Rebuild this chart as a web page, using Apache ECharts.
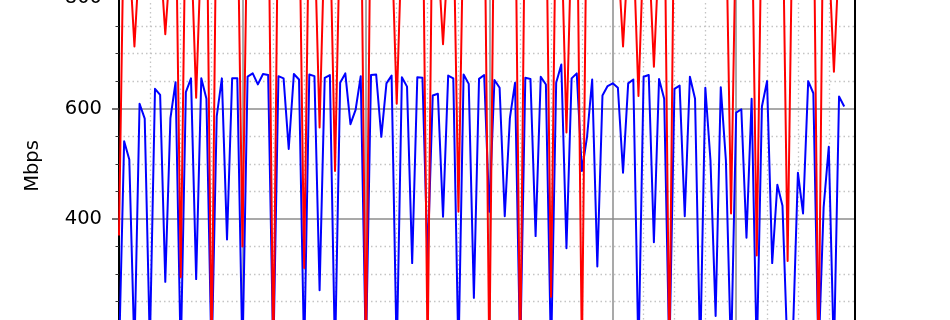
<!DOCTYPE html>
<html>
<head>
<meta charset="utf-8">
<script src="https://cdn.jsdelivr.net/npm/echarts@6/dist/echarts.min.js"></script>
<style>
html,body{margin:0;padding:0;background:#fff;width:950px;height:320px;overflow:hidden;}
#wrap{width:950px;height:320px;overflow:hidden;position:relative;}
#chart{width:950px;height:470px;position:absolute;left:0;top:-2px;}
</style>
</head>
<body>
<div id="wrap"><div id="chart"></div></div>
<script>
// Y axis (Mbps) tick values
const yTicks = [0, 200, 400, 600, 800];
const yLabel = 'Mbps';

// Blue series (sample index 0..141)
const blueValues = [
  150, 541, 508, 160, 609, 582, 170, 636, 625, 286,
  583, 648, 150, 630, 655, 291, 655, 618, 140, 586,
  655, 363, 655, 655, 150, 658, 664, 644, 663, 661,
  150, 659, 655, 527, 663, 653, 150, 662, 659, 271,
  656, 661, 150, 647, 664, 572, 598, 659, 150, 661,
  662, 549, 646, 660, 150, 657, 640, 320, 657, 656,
  326, 624, 627, 404, 660, 655, 150, 662, 645, 257,
  654, 661, 413, 652, 638, 405, 583, 647, 150, 656,
  654, 369, 658, 644, 150, 647, 680, 347, 655, 664,
  487, 549, 653, 314, 624, 641, 646, 638, 484, 646,
  653, 150, 658, 661, 358, 654, 618, 150, 636, 642,
  405, 658, 618, 150, 638, 506, 224, 639, 506, 150,
  593, 599, 366, 618, 150, 604, 650, 320, 462, 424,
  150, 180, 484, 410, 650, 628, 150, 421, 531, 150,
  622, 604
];

// Red series (sample index 0..141)
const redValues = [
  370, 980, 880, 713, 880, 920, 930, 910, 880, 735,
  870, 1000, 295, 1000, 900, 620, 900, 1040, 140, 1040,
  930, 940, 920, 1000, 350, 990, 930, 920, 940, 1040,
  130, 1040, 930, 920, 940, 1000, 311, 990, 920, 566,
  920, 940, 487, 940, 930, 920, 940, 1040, 140, 1040,
  930, 920, 940, 910, 609, 910, 930, 920, 940, 1040,
  150, 1040, 880, 717, 880, 960, 413, 960, 930, 920,
  940, 1040, 140, 1040, 930, 920, 940, 1040, 130, 1040,
  930, 920, 940, 1010, 259, 1010, 920, 557, 920, 1040,
  150, 1040, 930, 920, 940, 930, 920, 880, 713, 880,
  900, 623, 900, 890, 676, 890, 1040, 140, 1040, 930,
  920, 940, 930, 920, 940, 930, 920, 940, 960, 410,
  960, 930, 920, 990, 334, 990, 930, 920, 940, 990,
  324, 990, 930, 920, 940, 1040, 130, 1040, 880, 667,
  880, 920
];

const toPairs = arr => arr.map((v, i) => [i, v]);
const FONT = 'DejaVu Sans';

const chart = echarts.init(document.getElementById('chart'), null, {renderer: 'canvas', width: 950, height: 470});
chart.setOption({
  animation: false,
  backgroundColor: '#ffffff',
  grid: [
    {left: 119, top: 0.4, width: 736, height: 441.2, containLabel: false, outerBoundsMode: 'none'},
    {left: 119, top: 0.4, width: 736 * 144 / 143.1, height: 441.2, containLabel: false, outerBoundsMode: 'none'}
  ],
  xAxis: [
    {
      type: 'value', gridIndex: 0, min: 0, max: 143.1, interval: 24,
      axisLine: {show: false}, axisTick: {show: false}, axisLabel: {show: false},
      splitLine: {show: true, lineStyle: {color: '#8c8c8c', width: 1.5}},
      minorSplitLine: {show: false}
    },
    {
      type: 'value', gridIndex: 1, min: 0, max: 144, interval: 24,
      axisLine: {show: false}, axisTick: {show: false}, axisLabel: {show: false},
      splitLine: {show: false},
      minorTick: {show: false, splitNumber: 4},
      minorSplitLine: {show: true, lineStyle: {color: '#c4c4c4', width: 1.3, type: [1.5, 3]}}
    }
  ],
  yAxis: [
    {
      type: 'value', gridIndex: 0, min: yTicks[0], max: yTicks[yTicks.length - 1], interval: 200,
      axisLine: {show: true, lineStyle: {color: '#000', width: 2}},
      axisTick: {show: true, length: 7, lineStyle: {color: '#444', width: 1.5}},
      minorTick: {show: true, splitNumber: 4, length: 3.5, lineStyle: {color: '#333', width: 1}},
      axisLabel: {show: true, margin: 17, color: '#000', fontFamily: FONT, fontSize: 19.5},
      splitLine: {show: true, lineStyle: {color: '#8c8c8c', width: 1.5}},
      minorSplitLine: {show: true, lineStyle: {color: '#c4c4c4', width: 1.3, type: [1.5, 3]}}
    },
    {
      type: 'value', gridIndex: 0, position: 'right', min: 0, max: 800,
      axisLine: {show: true, onZero: false, lineStyle: {color: '#000', width: 2}},
      axisTick: {show: false}, axisLabel: {show: false}, splitLine: {show: false}
    },
    {
      type: 'value', gridIndex: 1, min: 0, max: 800, show: false,
      splitLine: {show: false}
    }
  ],
  graphic: [
    {
      type: 'text', rotation: Math.PI / 2, x: 33, y: 168,
      style: {text: yLabel, fill: '#000', font: '19.5px "DejaVu Sans"', textAlign: 'center', textVerticalAlign: 'middle'}
    }
  ],
  series: [
    {
      type: 'line', xAxisIndex: 0, yAxisIndex: 0, data: toPairs(blueValues),
      symbol: 'none', clip: true, z: 3,
      lineStyle: {color: '#0000ff', width: 2, join: 'round'}
    },
    {
      type: 'line', xAxisIndex: 0, yAxisIndex: 0, data: toPairs(redValues),
      symbol: 'none', clip: true, z: 4,
      lineStyle: {color: '#ff0000', width: 2, join: 'round'}
    }
  ]
});
</script>
</body>
</html>
